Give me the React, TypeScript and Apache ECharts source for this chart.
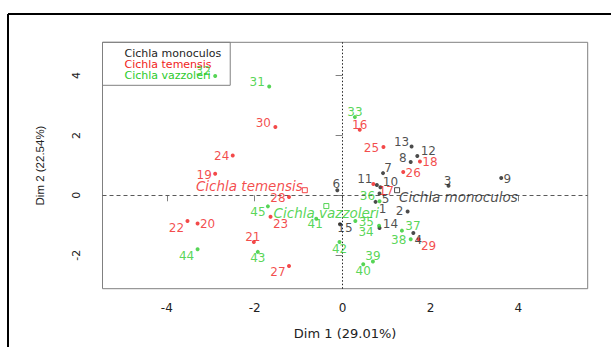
import React, { useEffect, useRef } from 'react';
import * as echarts from 'echarts';

// ---- data ----
const monoculosLabels = ['1', '2', '3', '4', '5', '6', '7', '8', '9', '10', '11', '12', '13', '14', '15'];
const monoculosX = [0.75, 1.48, 2.41, 1.61, 0.84, -0.12, 0.92, 1.55, 3.61, 0.86, 0.78, 1.70, 1.57, 0.84, -0.06];
const monoculosY = [-0.22, -0.54, 0.32, -1.26, 0.06, 0.17, 0.74, 1.11, 0.58, 0.27, 0.34, 1.31, 1.63, -1.09, -0.97];

const temensisLabels = ['16', '17', '18', '19', '20', '21', '22', '23', '24', '25', '26', '27', '28', '29', '30'];
const temensisX = [0.39, 0.70, 1.76, -2.90, -3.30, -2.02, -3.53, -1.64, -2.50, 0.93, 1.38, -1.22, -1.22, 1.73, -1.53];
const temensisY = [2.19, 0.38, 1.13, 0.72, -0.94, -1.56, -0.86, -0.72, 1.33, 1.61, 0.78, -2.36, -0.06, -1.47, 2.28];

const vazzoleriLabels = ['31', '32', '33', '34', '35', '36', '37', '38', '39', '40', '41', '42', '43', '44', '45'];
const vazzoleriX = [-1.67, -2.90, 0.28, 0.83, 0.29, 0.84, 1.35, 1.55, 0.69, 0.47, -0.60, -0.07, -1.93, -3.30, -1.70];
const vazzoleriY = [3.63, 3.98, 2.61, -1.02, -0.86, -0.20, -1.18, -1.47, -2.21, -2.30, -0.78, -1.56, -1.89, -1.80, -0.37];

const speciesNames = ['Cichla monoculos', 'Cichla temensis', 'Cichla vazzoleri'];
const centroidX = [1.24, -0.86, -0.37];
const centroidY = [0.17, 0.17, -0.36];

const xTicks = [-4, -2, 0, 2, 4];
const yTicks = [-2, 0, 2, 4];
const xTitle = 'Dim 1 (29.01%)';
const yTitle = 'Dim 2 (22.54%)';

// ---- styles (label placement offsets, colours) ----
const colors = ['#1e1e1e', '#f01c1c', '#2ccb2c'];
const monoculosOffsets = [[7, 7], [-8, 0], [-1, -5], [5, 7], [6, 6], [-1, -6], [5, -5], [-8, -4], [6, 1], [10, -5], [-12, -6], [11, -5], [-10, -4], [11, -4], [5, 4]];
const temensisOffsets = [[0, -5], [13, 7], [10, 1], [-11, 1], [10, 1], [-1, -5], [-11, 7], [10, 7], [-11, 1], [-12, 1], [10, 1], [-11, 6], [-11, 1], [10, 7], [-12, -4]];
const vazzoleriOffsets = [[-12, -5], [-12, -5], [0, -5], [-13, 6], [11, 1], [-12, -5], [11, -5], [-12, 1], [0, -5], [0, 7], [-1, 5], [0, 7], [0, 6], [-11, 7], [-10, 6]];
const centroidLabelStyles = [
  { align: 'left', offset: [2, 6.5] },
  { align: 'right', offset: [-2, -4.5] },
  { align: 'center', offset: [0, 6.5] },
];

const FONT = 'DejaVu Sans';

function buildPoints(xs: number[], ys: number[], labels: string[], offs: number[][]) {
  return xs.map((x, i) => ({
    value: [x, ys[i]],
    name: labels[i],
    label: { offset: offs[i] },
  }));
}

export default function App() {
  const ref = useRef<HTMLDivElement>(null);

  useEffect(() => {
    if (!ref.current) return;
    const chart = echarts.init(ref.current, undefined, { renderer: 'svg' });

    const groups = [
      buildPoints(monoculosX, monoculosY, monoculosLabels, monoculosOffsets),
      buildPoints(temensisX, temensisY, temensisLabels, temensisOffsets),
      buildPoints(vazzoleriX, vazzoleriY, vazzoleriLabels, vazzoleriOffsets),
    ];

    const pointSeries: any[] = groups.map((data, k) => ({
      type: 'scatter',
      name: speciesNames[k],
      data,
      symbol: 'circle',
      symbolSize: 4,
      itemStyle: { color: colors[k] },
      label: {
        show: true,
        position: 'inside',
        formatter: '{b}',
        color: colors[k],
        fontFamily: FONT,
        fontSize: 12,
        align: 'center',
        verticalAlign: 'middle',
      },
      z: 3,
    }));

    pointSeries[0].markLine = {
      silent: true,
      symbol: 'none',
      label: { show: false },
      animation: false,
      z: 1,
      data: [
        { xAxis: 0, lineStyle: { type: [1.5, 2], color: '#222', width: 1 } },
        { yAxis: 0, lineStyle: { type: [4, 3], color: '#5a5a5a', width: 1 } },
      ],
    };

    const centroidSeries = speciesNames.map((nm, k) => ({
      type: 'scatter',
      name: nm + ' centroid',
      data: [{ value: [centroidX[k], centroidY[k]], name: nm }],
      symbol: 'rect',
      symbolSize: 5,
      itemStyle: { color: 'rgba(255,255,255,0)', borderColor: colors[k], borderWidth: 1 },
      label: {
        show: true,
        position: 'inside',
        formatter: '{b}',
        color: colors[k],
        fontFamily: FONT,
        fontStyle: 'italic',
        fontSize: 13.5,
        verticalAlign: 'middle',
        align: centroidLabelStyles[k].align,
        offset: centroidLabelStyles[k].offset,
      },
      z: 4,
    }));

    chart.setOption({
      animation: false,
      backgroundColor: '#fff',
      grid: { left: 102.5, top: 42.3, width: 485.2, height: 246.4, show: true, borderColor: '#808080', borderWidth: 1, backgroundColor: 'transparent' },
      legend: {
        orient: 'vertical',
        left: 102.5,
        top: 42.3,
        data: speciesNames.map((n, k) => ({ name: n, textStyle: { color: colors[k] } })),
        itemWidth: 0,
        itemHeight: 10,
        itemGap: 0,
        padding: [6, 9, 4, 17],
        borderColor: '#808080',
        borderWidth: 1,
        backgroundColor: 'rgba(255,255,255,0)',
        selectedMode: false,
        textStyle: { fontFamily: FONT, fontSize: 11, lineHeight: 10 },
        z: 1,
      },
      xAxis: {
        type: 'value',
        min: -5.464,
        max: 5.578,
        axisLine: { show: false },
        splitLine: { show: false },
        axisTick: { show: true, customValues: xTicks, length: 6, lineStyle: { color: '#808080' } },
        axisLabel: { customValues: xTicks, margin: 13, fontFamily: FONT, fontSize: 12, color: '#222' },
        name: xTitle,
        nameLocation: 'middle',
        nameGap: 38,
        nameTextStyle: { fontFamily: FONT, fontSize: 13, color: '#222' },
      },
      yAxis: {
        type: 'value',
        min: -3.119,
        max: 5.108,
        axisLine: { show: false },
        splitLine: { show: false },
        axisTick: { show: true, customValues: yTicks, length: 7, lineStyle: { color: '#808080' } },
        axisLabel: { customValues: yTicks, rotate: 90, margin: 21, fontFamily: FONT, fontSize: 11, color: '#222' },
        name: yTitle,
        nameLocation: 'middle',
        nameGap: 57,
        nameRotate: 90,
        nameTextStyle: { fontFamily: 'Liberation Sans', fontSize: 11.5, color: '#222' },
      },
      graphic: [
        { type: 'line', shape: { x1: 8, y1: 14, x2: 611, y2: 14 }, style: { stroke: '#000', lineWidth: 2 } },
        { type: 'line', shape: { x1: 8, y1: 14, x2: 8, y2: 347 }, style: { stroke: '#000', lineWidth: 2 } },
      ],
      series: [...pointSeries, ...centroidSeries],
    });

    return () => chart.dispose();
  }, []);

  return (
    <div
      ref={ref}
      style={{ position: 'fixed', left: 0, top: 0, width: 611, height: 347, background: '#fff' }}
    />
  );
}
